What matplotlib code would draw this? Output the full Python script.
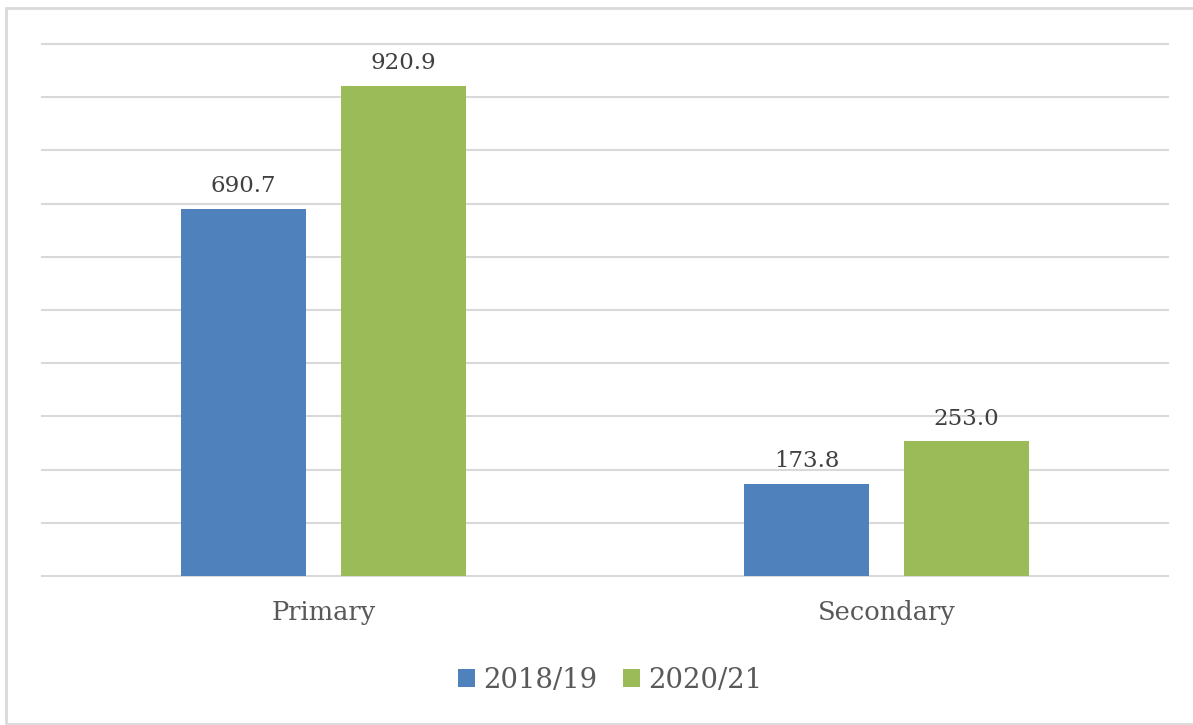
import numpy as np
import matplotlib.pyplot as plt
from matplotlib.patches import Rectangle

categories = ['Primary', 'Secondary']
series_names = ['2018/19', '2020/21']
vals_1819 = [690.7, 173.8]
vals_2021 = [920.9, 253.0]
colors = ['#4f81bd', '#9bbb59']

W, H = 1193, 725
fig = plt.figure(figsize=(W / 100, H / 100), dpi=100)
plt.rcParams['font.family'] = ['DejaVu Serif']
txt = '#595959'

# outer chart frame
fig.patches.append(Rectangle((6 / W, 1 / H), 1.2, 716 / H, transform=fig.transFigure,
                             fill=False, edgecolor='#d9d9d9', linewidth=2))

ax = fig.add_axes([42 / W, (H - 576) / H, 1126 / W, 532 / H])
x = np.arange(len(categories))
bw = 0.222
off = 0.142
for i, (vals, name) in enumerate([(vals_1819, series_names[0]), (vals_2021, series_names[1])]):
    pos = x + (off if i else -off)
    bars = ax.bar(pos, vals, bw, color=colors[i], label=name, zorder=3)
    for b, v in zip(bars, vals):
        ax.text(b.get_x() + b.get_width() / 2, v + 22, f'{v:.1f}', ha='center', va='bottom',
                fontsize=16.5, color='#404040')

ax.set_xlim(-0.5, 1.5)
ax.set_ylim(0, 1000)
ax.set_yticks(np.arange(0, 1001, 100))
ax.yaxis.grid(True, color='#d9d9d9', linewidth=1.5, zorder=0)
for gl in ax.get_ygridlines():
    gl.set_clip_on(False)
ax.tick_params(axis='y', left=False, labelleft=False)
ax.tick_params(axis='x', bottom=False, pad=14, labelsize=18.5, labelcolor=txt)
ax.set_xticks(x)
ax.set_xticklabels(categories)
for s in ax.spines.values():
    s.set_visible(False)

leg = fig.legend(loc='center', bbox_to_anchor=(610 / W, (H - 680) / H), ncol=2, frameon=False,
                 fontsize=19.8, handlelength=0.6, handleheight=0.6, handletextpad=0.3,
                 columnspacing=0.95)
for t in leg.get_texts():
    t.set_color(txt)

fig.savefig('out.png', dpi=100)
